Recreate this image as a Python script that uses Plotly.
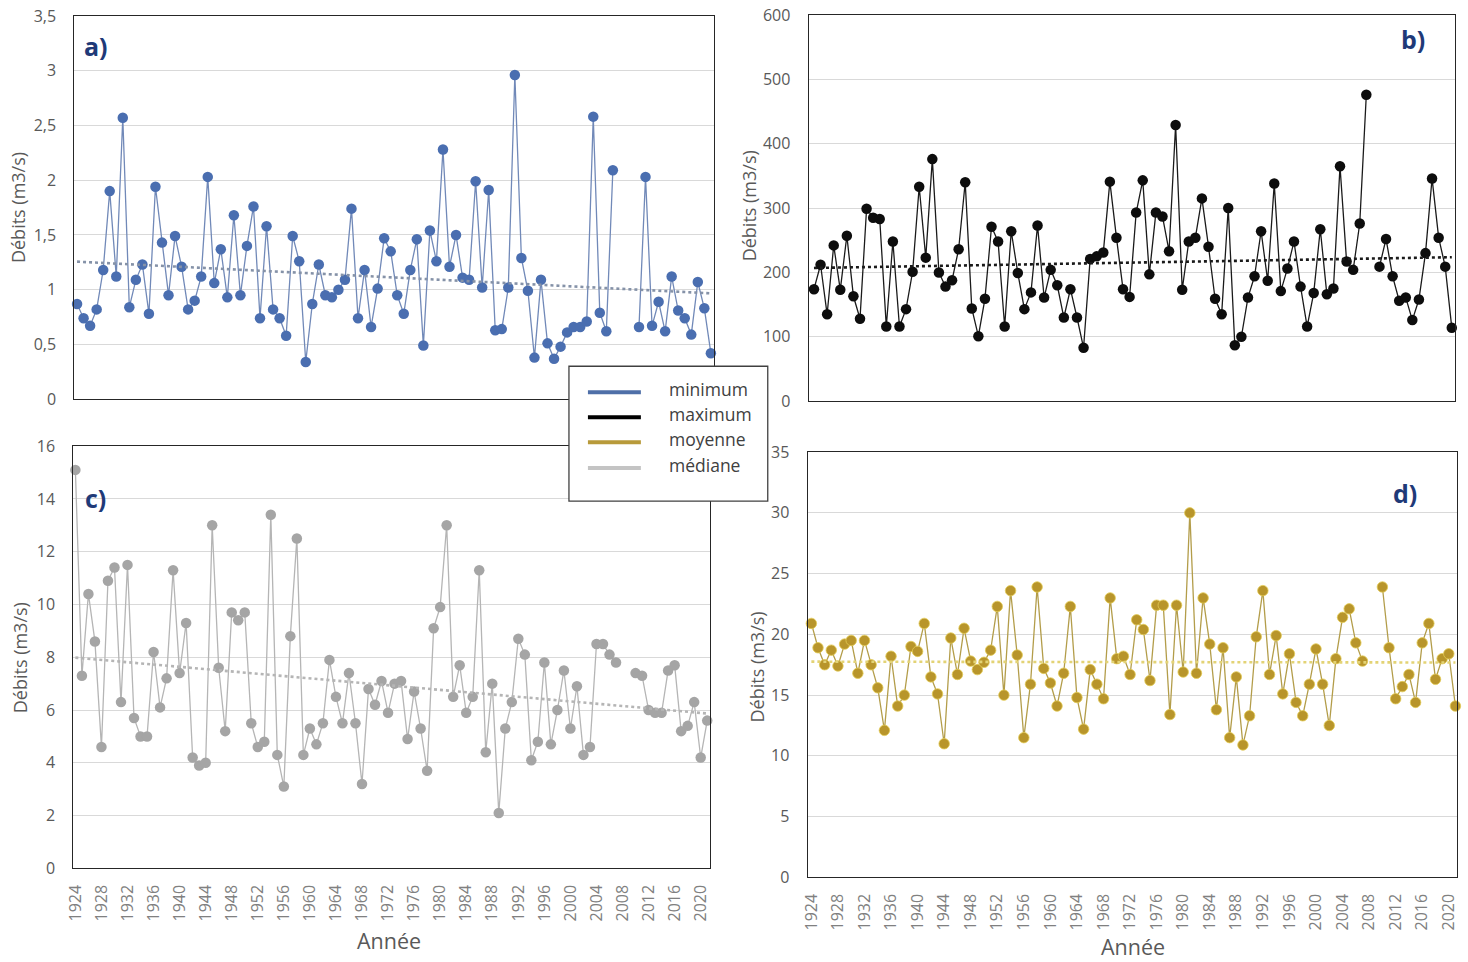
import numpy as np
import plotly.graph_objects as go

# ---------------- data ----------------
years = list(range(1924, 2022))
tick_years = [1924, 1928, 1932, 1936, 1940, 1944, 1948, 1952, 1956, 1960, 1964, 1968,
              1972, 1976, 1980, 1984, 1988, 1992, 1996, 2000, 2004, 2008, 2012, 2016, 2020]
tick_labels = [str(t) for t in tick_years]

N = None
minimum = [0.87, 0.74, 0.67, 0.82, 1.18, 1.90, 1.12, 2.57, 0.84, 1.09,
           1.23, 0.78, 1.94, 1.43, 0.95, 1.49, 1.21, 0.82, 0.90, 1.12,
           2.03, 1.06, 1.37, 0.93, 1.68, 0.95, 1.40, 1.76, 0.74, 1.58,
           0.82, 0.74, 0.58, 1.49, 1.26, 0.34, 0.87, 1.23, 0.95, 0.93,
           1.00, 1.09, 1.74, 0.74, 1.18, 0.66, 1.01, 1.47, 1.35, 0.95,
           0.78, 1.18, 1.46, 0.49, 1.54, 1.26, 2.28, 1.21, 1.50, 1.11,
           1.09, 1.99, 1.02, 1.91, 0.63, 0.64, 1.02, 2.96, 1.29, 0.99,
           0.38, 1.09, 0.51, 0.37, 0.48, 0.61, 0.66, 0.66, 0.71, 2.58,
           0.79, 0.62, 2.09, N, N, N,
           0.66, 2.03, 0.67, 0.89, 0.62, 1.12, 0.81, 0.74, 0.59, 1.07, 0.83, 0.42]

maximum = [174, 212, 135, 242, 173, 257, 163, 128, 299, 285,
           283, 116, 248, 116, 143, 201, 333, 223, 376, 200,
           178, 188, 236, 340, 144, 101, 159, 271, 248, 116,
           264, 199, 143, 169, 273, 161, 204, 180, 130, 174,
           130, 83, 221, 225, 231, 341, 254, 174, 162,
           293, 343, 197, 293, 287, 233, 429, 173, 248, 254,
           315, 240, 159, 135, 300, 87, 100, 161, 194, 264,
           187, 338, 171, 206, 248, 178, 116, 168, 267, 166,
           175, 365, 217, 204, 276, 476, N,
           209, 252, 194, 156, 161, 126, 158, 230, 346, 254, 209, 114]

mediane = [15.1, 7.3, 10.4, 8.6, 4.6, 10.9, 11.4, 6.3, 11.5, 5.7,
           5.0, 5.0, 8.2, 6.1, 7.2, 11.3, 7.4, 9.3, 4.2, 3.9,
           4.0, 13.0, 7.6, 5.2, 9.7, 9.4, 9.7, 5.5, 4.6, 4.8,
           13.4, 4.3, 3.1, 8.8, 12.5, 4.3, 5.3, 4.7, 5.5, 7.9,
           6.5, 5.5, 7.4, 5.5, 3.2, 6.8, 6.2, 7.1, 5.9,
           7.0, 7.1, 4.9, 6.7, 5.3, 3.7, 9.1, 9.9, 13.0, 6.5,
           7.7, 5.9, 6.5, 11.3, 4.4, 7.0, 2.1, 5.3, 6.3, 8.7,
           8.1, 4.1, 4.8, 7.8, 4.7, 6.0, 7.5, 5.3, 6.9, 4.3,
           4.6, 8.5, 8.5, 8.1, 7.8, N, N,
           7.4, 7.3, 6.0, 5.9, 5.9, 7.5, 7.7, 5.2, 5.4, 6.3, 4.2, 5.6]

moyenne = [20.9, 18.9, 17.5, 18.7, 17.4, 19.2, 19.5, 16.8, 19.5, 17.5,
           15.6, 12.1, 18.2, 14.1, 15.0, 19.0, 18.6, 20.9, 16.5, 15.1,
           11.0, 19.7, 16.7, 20.5, 17.8, 17.1, 17.7, 18.7, 22.3, 15.0,
           23.6, 18.3, 11.5, 15.9, 23.9, 17.2, 16.0, 14.1, 16.8, 22.3,
           14.8, 12.2, 17.1, 15.9, 14.7, 23.0, 18.0, 18.2, 16.7,
           21.2, 20.4, 16.2, 22.4, 22.4, 13.4, 22.4, 16.9, 30.0, 16.8,
           23.0, 19.2, 13.8, 18.9, 11.5, 16.5, 10.9, 13.3, 19.8, 23.6,
           16.7, 19.9, 15.1, 18.4, 14.4, 13.3, 15.9, 18.8, 15.9, 12.5,
           18.0, 21.4, 22.1, 19.3, 17.8, N, N,
           23.9, 18.9, 14.7, 15.7, 16.7, 14.4, 19.3, 20.9, 16.3, 18.0, 18.4, 14.1]

legend_names = ["minimum", "maximum", "moyenne", "médiane"]
panel_letters = ["a)", "b)", "c)", "d)"]
y_title = "Débits (m3/s)"
x_title = "Année"

# page placement (browser body margin and capture scaling, measured)
W, H = 1468, 968
SX, TX = 0.9928, 8.5
SY, TY = 0.979, 10.1
def px(x): return ((x - TX) / SX) / W
def py(y): return 1 - ((y - TY) / SY) / H

fig = go.Figure()

panels = [
    dict(v=minimum, mc="#4a6eb0", lc="#7189b8", tc="#8592a8", ax="", box=(73, 713, 15, 399),
         xr=[1923.6, 2021.45], yr=[0, 3.5], dt=0.5, ticks=False),
    dict(v=maximum, mc="#0d0d0d", lc="#1a1a1a", tc="#1a1a1a", ax="2", box=(808, 1455, 14, 401),
         xr=[1923.2, 2021.5], yr=[0, 600], dt=100, ticks=False),
    dict(v=mediane, mc="#a5a5a5", lc="#b5b5b5", tc="#b5b5b5", ax="3", box=(72, 709, 446, 869),
         xr=[1923.7, 2021.4], yr=[0, 16], dt=2, ticks=True),
    dict(v=moyenne, mc="#b8952b", lc="#b39d4a", tc="#e3d375", ax="4", box=(807, 1457, 452, 878),
         xr=[1923.45, 2021.25], yr=[0, 35], dt=5, ticks=True),
]

yrs = np.array(years, dtype=float)
for p in panels:
    xa = "x" + p["ax"]
    ya = "y" + p["ax"]
    vals = p["v"]
    marker_line = dict(width=0.8, color="#e3cc55") if p["ax"] == "4" else dict(width=0)
    fig.add_trace(go.Scatter(x=years, y=vals, mode="lines+markers", xaxis=xa, yaxis=ya,
                             line=dict(color=p["lc"], width=1.3),
                             marker=dict(size=10.5, color=p["mc"], line=marker_line),
                             cliponaxis=False, connectgaps=False, showlegend=False,
                             hoverinfo="x+y"))
    # linear trend (least squares on the plotted values)
    arr = np.array([np.nan if v is None else v for v in vals], dtype=float)
    ok = ~np.isnan(arr)
    a, b = np.polyfit(yrs[ok], arr[ok], 1)
    fig.add_trace(go.Scatter(x=[years[0], years[-1]], y=[a * years[0] + b, a * years[-1] + b],
                             mode="lines", xaxis=xa, yaxis=ya,
                             line=dict(color=p["tc"], width=2.6, dash="dot"),
                             showlegend=False, hoverinfo="skip"))

layout = dict(width=W, height=H, margin=dict(l=0, r=0, t=0, b=0),
              paper_bgcolor="white", plot_bgcolor="white", showlegend=False,
              separators=", ", font=dict(family="Open Sans", color="#595959"))

for p in panels:
    l, r, t, b = p["box"]
    key = p["ax"] if p["ax"] else ""
    layout["xaxis" + key] = dict(
        domain=[px(l), px(r)], range=p["xr"], anchor="y" + key,
        showgrid=False, zeroline=False, showline=True, mirror=True,
        linecolor="#262626", linewidth=1.2,
        tickmode="array", tickvals=tick_years if p["ticks"] else [],
        ticktext=tick_labels if p["ticks"] else [],
        tickangle=-90, ticks="", ticklabelstandoff=9,
        tickfont=dict(size=16, color="#808080", family="Open Sans"),
        showticklabels=p["ticks"], fixedrange=True)
    layout["yaxis" + key] = dict(
        domain=[py(b), py(t)], range=p["yr"], anchor="x" + key,
        dtick=p["dt"], tick0=0, showgrid=True, gridcolor="#d9d9d9", gridwidth=1,
        zeroline=False, showline=True, mirror=True,
        linecolor="#262626", linewidth=1.2, ticks="", ticklabelstandoff=14,
        tickfont=dict(size=16, color="#595959", family="Open Sans"), fixedrange=True)

annotations = []
for (x, y) in [(16, 207), (748, 205), (18, 658), (756, 667)]:
    annotations.append(dict(x=px(x), y=py(y), xref="paper", yref="paper", text=y_title,
                            textangle=-90, showarrow=False, xanchor="center", yanchor="middle",
                            font=dict(size=18, color="#595959", family="Open Sans")))
for (x, y) in [(388, 941), (1133, 947)]:
    annotations.append(dict(x=px(x), y=py(y), xref="paper", yref="paper", text=x_title,
                            showarrow=False, xanchor="center", yanchor="middle",
                            font=dict(size=21.5, color="#595959", family="Open Sans")))
for lab, (x, y) in zip(panel_letters, [(95, 45), (1413, 38), (94, 498), (1405, 493)]):
    annotations.append(dict(x=px(x), y=py(y), xref="paper", yref="paper", text="<b>%s</b>" % lab,
                            showarrow=False, xanchor="center", yanchor="middle",
                            font=dict(size=25, color="#1f3a78", family="Open Sans")))

shapes = [dict(type="rect", xref="paper", yref="paper", x0=px(568), x1=px(767), y0=py(501), y1=py(366),
               fillcolor="white", line=dict(color="#404040", width=1.3), layer="above")]
leg_colors = ["#4f6fa8", "#000000", "#b89a3a", "#c4c4c4"]
leg_rows = [392, 417, 442, 468]
for name, c, yy in zip(legend_names, leg_colors, leg_rows):
    shapes.append(dict(type="line", xref="paper", yref="paper", x0=px(587), x1=px(640),
                       y0=py(yy), y1=py(yy), line=dict(color=c, width=4), layer="above"))
    annotations.append(dict(x=px(666), y=py(yy - 3), xref="paper", yref="paper", text=name,
                            xanchor="left", yanchor="middle", showarrow=False,
                            font=dict(size=17.5, color="#404040", family="Open Sans")))

layout["annotations"] = annotations
layout["shapes"] = shapes
fig.update_layout(**layout)
fig.write_html("out.html", config={"displayModeBar": False})
